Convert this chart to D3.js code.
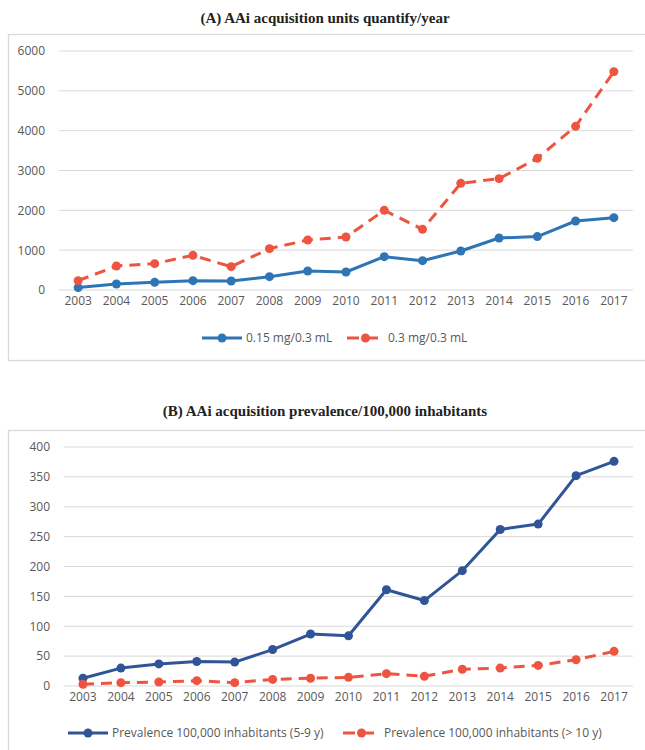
<!DOCTYPE html>
<html lang="en">
	<head>
		<meta charset="UTF-8" />
		<script src="https://cdnjs.cloudflare.com/ajax/libs/d3/7.8.5/d3.min.js"></script>
		<title>AAi acquisition</title>
		<style>
			body { margin: 0; background: #fff; }
			svg { display: block; }
		</style>
	</head>
	<body>
		<div class="chart"></div>

		<script>
			// data
			const years = ['2003','2004','2005','2006','2007','2008','2009','2010','2011','2012','2013','2014','2015','2016','2017']
			const units015 = [60, 150, 192, 234, 226, 335, 477, 452, 837, 736, 980, 1305, 1340, 1732, 1816]
			const units03 = [234, 603, 661, 870, 586, 1038, 1255, 1331, 2000, 1523, 2678, 2795, 3305, 4109, 5481]
			const unitTicks = [0, 1000, 2000, 3000, 4000, 5000, 6000]

			const prev59 = [13, 30, 37, 41, 40, 61, 87, 84, 161, 143, 193, 262, 271, 352, 376]
			const prev10 = [3, 5.6, 6.7, 8.9, 5.6, 11, 13, 14.5, 20.6, 16.2, 28, 30, 34.5, 44, 58]
			const prevTicks = [0, 50, 100, 150, 200, 250, 300, 350, 400]

			const blueA = '#2e75b6'
			const blueB = '#2f5597'
			const red = '#ee5541'
			const txt = '#595959'

			const svg = d3.select('.chart').append('svg')
				.attr('width', 645)
				.attr('height', 750)

			function panel(cfg) {
				const g = svg.append('g')
				// outer box
				g.append('rect')
					.attr('x', 8.5).attr('y', cfg.boxTop + 0.5)
					.attr('width', 650).attr('height', cfg.boxH)
					.attr('fill', 'none').attr('stroke', '#d9d9d9').attr('stroke-width', 1.3)
				// title
				g.append('text')
					.attr('x', 325).attr('y', cfg.titleY)
					.attr('text-anchor', 'middle')
					.style('font-family', '"Liberation Serif", serif')
					.style('font-weight', 'bold')
					.style('font-size', '15px')
					.attr('fill', '#222')
					.text(cfg.title)

				const x = d3.scaleBand().domain(years).range([cfg.left, 633])
				const y = d3.scaleLinear().domain(cfg.domain).range([cfg.bottom, cfg.top])

				// gridlines
				g.append('g').selectAll('line').data(cfg.ticks).join('line')
					.attr('x1', cfg.left).attr('x2', 633)
					.attr('y1', d => y(d)).attr('y2', d => y(d))
					.attr('stroke', '#d9d9d9').attr('stroke-width', 1)

				const yAxis = g.append('g')
					.attr('transform', `translate(${cfg.left - 14},0)`)
					.call(d3.axisLeft(y).tickValues(cfg.ticks).tickFormat(d3.format('d')).tickSize(0).tickPadding(0))
				yAxis.select('.domain').remove()
				yAxis.selectAll('text')
					.style('font-family', '"Open Sans", sans-serif')
					.style('font-size', '12px')
					.attr('fill', txt)

				const xAxis = g.append('g')
					.attr('transform', `translate(0,${cfg.bottom})`)
					.call(d3.axisBottom(x).tickSize(0).tickPadding(6))
				xAxis.select('.domain').remove()
				xAxis.selectAll('text')
					.style('font-family', '"Open Sans", sans-serif')
					.style('font-size', '12px')
					.attr('fill', txt)

				const cx = d => x(d) + x.bandwidth() / 2
				const line = d3.line().x((d, i) => cx(years[i])).y(d => y(d))

				cfg.series.forEach(s => {
					g.append('path')
						.datum(s.values)
						.attr('d', line)
						.attr('fill', 'none')
						.attr('stroke', s.color)
						.attr('stroke-width', 3)
						.attr('stroke-linejoin', 'round')
						.attr('stroke-dasharray', s.dash ? '11,7' : null)
					g.append('g').selectAll('circle').data(s.values).join('circle')
						.attr('cx', (d, i) => cx(years[i]))
						.attr('cy', d => y(d))
						.attr('r', 4.5)
						.attr('fill', s.color)

					// legend
					const lg = g.append('g').attr('transform', `translate(${s.lx},${cfg.legendY})`)
					lg.append('line')
						.attr('x1', 0).attr('x2', s.lw)
						.attr('stroke', s.color).attr('stroke-width', 3)
						.attr('stroke-dasharray', s.dash ? '12,7' : null)
					lg.append('circle').attr('cx', s.lw / 2).attr('r', 4.5).attr('fill', s.color)
					lg.append('text')
						.attr('x', s.lw + 4).attr('dy', '0.35em')
						.style('font-family', '"Open Sans", sans-serif')
						.style('font-size', '12px')
						.attr('fill', txt)
						.text(s.name)
				})
			}

			panel({
				title: '(A) AAi acquisition units quantify/year',
				titleY: 23, boxTop: 34, boxH: 326,
				left: 59, top: 51, bottom: 290,
				domain: [0, 6000], ticks: unitTicks,
				legendY: 338,
				series: [
					{ name: '0.15 mg/0.3 mL', values: units015, color: blueA, dash: false, lx: 202, lw: 40 },
					{ name: '0.3 mg/0.3 mL', values: units03, color: red, dash: true, lx: 347, lw: 37 }
				]
			})

			panel({
				title: '(B) AAi acquisition prevalence/100,000 inhabitants',
				titleY: 416, boxTop: 430, boxH: 340,
				left: 64, top: 447, bottom: 686,
				domain: [0, 400], ticks: prevTicks,
				legendY: 733,
				series: [
					{ name: 'Prevalence 100,000 inhabitants (5-9 y)', values: prev59, color: blueB, dash: false, lx: 68, lw: 40 },
					{ name: 'Prevalence 100,000 inhabitants (> 10 y)', values: prev10, color: red, dash: true, lx: 343, lw: 37 }
				]
			})
		</script>
	</body>
</html>
